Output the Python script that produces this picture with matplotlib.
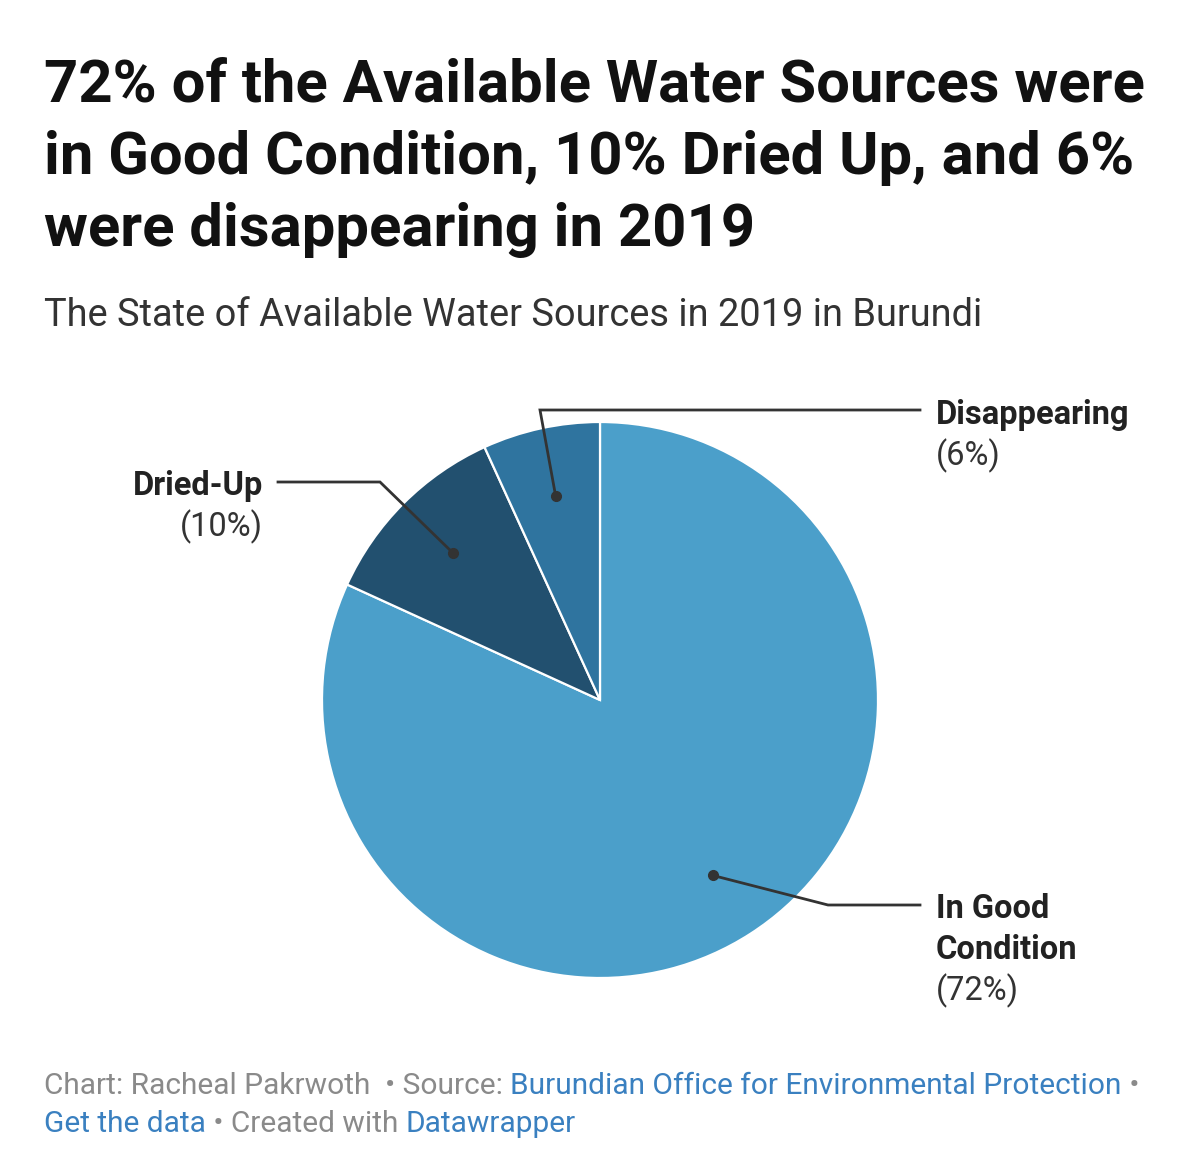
import matplotlib
matplotlib.use("Agg")
import matplotlib.pyplot as plt
import numpy as np

# dados
categorias = ["In Good Condition", "Dried-Up", "Disappearing"]
valores = [72, 10, 6]
rotulos = [["In Good", "Condition"], ["Dried-Up"], ["Disappearing"]]
cores = ["#4b9fca", "#22506f", "#2f749f"]

titulo = ["72% of the Available Water Sources were",
          "in Good Condition, 10% Dried Up, and 6%",
          "were disappearing in 2019"]
subtitulo = "The State of Available Water Sources in 2019 in Burundi"

W, H = 1200, 1164
plt.rcParams["font.family"] = ["Roboto", "DejaVu Sans"]

fig = plt.figure(figsize=(W / 100, H / 100), dpi=100)
ax = fig.add_axes([0, 0, 1, 1])


def py(y):
    # coordenada em pixels (de cima) -> dados
    return H - y


# pizza
cx, cy, R = 600, py(700), 278
wedges, _ = ax.pie(valores, colors=cores, startangle=90, counterclock=False,
                   center=(cx, cy), radius=R, frame=True,
                   wedgeprops=dict(edgecolor="white", linewidth=1.6))
ax.set_xlim(0, W)
ax.set_ylim(0, H)
ax.set_aspect("equal")
ax.axis("off")

# titulo e subtitulo
for i, linha in enumerate(titulo):
    ax.text(44, py(102 + i * 72), linha, fontsize=43, fontweight="bold",
            color="#111111", va="baseline", ha="left")
ax.text(44, py(326), subtitulo, fontsize=27.4, color="#333333",
        va="baseline", ha="left")

# posicoes dos rotulos (pixels): cotovelo, fim da linha, texto
layout = [
    dict(elbow=(828, 905), end=(920, 905), tx=936, ty=918, ha="left"),
    dict(elbow=(380, 482), end=(278, 482), tx=263, ty=495, ha="right"),
    dict(elbow=(540, 410), end=(920, 410), tx=936, ty=424, ha="left"),
]

for w, val, rot, lay in zip(wedges, valores, rotulos, layout):
    ang = np.deg2rad((w.theta1 + w.theta2) / 2)
    dx = cx + 0.75 * R * np.cos(ang)
    dy = cy + 0.75 * R * np.sin(ang)
    ex, ey = lay["elbow"]
    fx, fy = lay["end"]
    ax.plot([dx, ex, fx], [dy, py(ey), py(fy)], color="#333333", lw=2,
            solid_joinstyle="miter", zorder=5)
    ax.plot(dx, dy, "o", color="#333333", ms=7, zorder=6)
    yy = lay["ty"]
    for parte in rot:
        ax.text(lay["tx"], py(yy), parte, fontsize=23.5, fontweight="bold",
                color="#222222", ha=lay["ha"], va="baseline")
        yy += 41
    ax.text(lay["tx"], py(yy), f"({val}%)", fontsize=23.5, color="#333333",
            ha=lay["ha"], va="baseline")

# rodape com partes coloridas
cinza, azul = "#8a8a8a", "#3a80c0"
rodape = [
    [("Chart: Racheal Pakrwoth  \u2022 Source: ", cinza),
     ("Burundian Office for Environmental Protection", azul),
     (" \u2022", cinza)],
    [("Get the data", azul), (" \u2022 Created with ", cinza),
     ("Datawrapper", azul)],
]
fig.canvas.draw()
renderer = fig.canvas.get_renderer()
for k, linha in enumerate(rodape):
    x = 44
    for txt, cor in linha:
        t = ax.text(x, py(1094 + k * 38), txt, fontsize=21.5, color=cor,
                    ha="left", va="baseline")
        bb = t.get_window_extent(renderer=renderer)
        x += bb.width

fig.savefig("out.png", dpi=100)
